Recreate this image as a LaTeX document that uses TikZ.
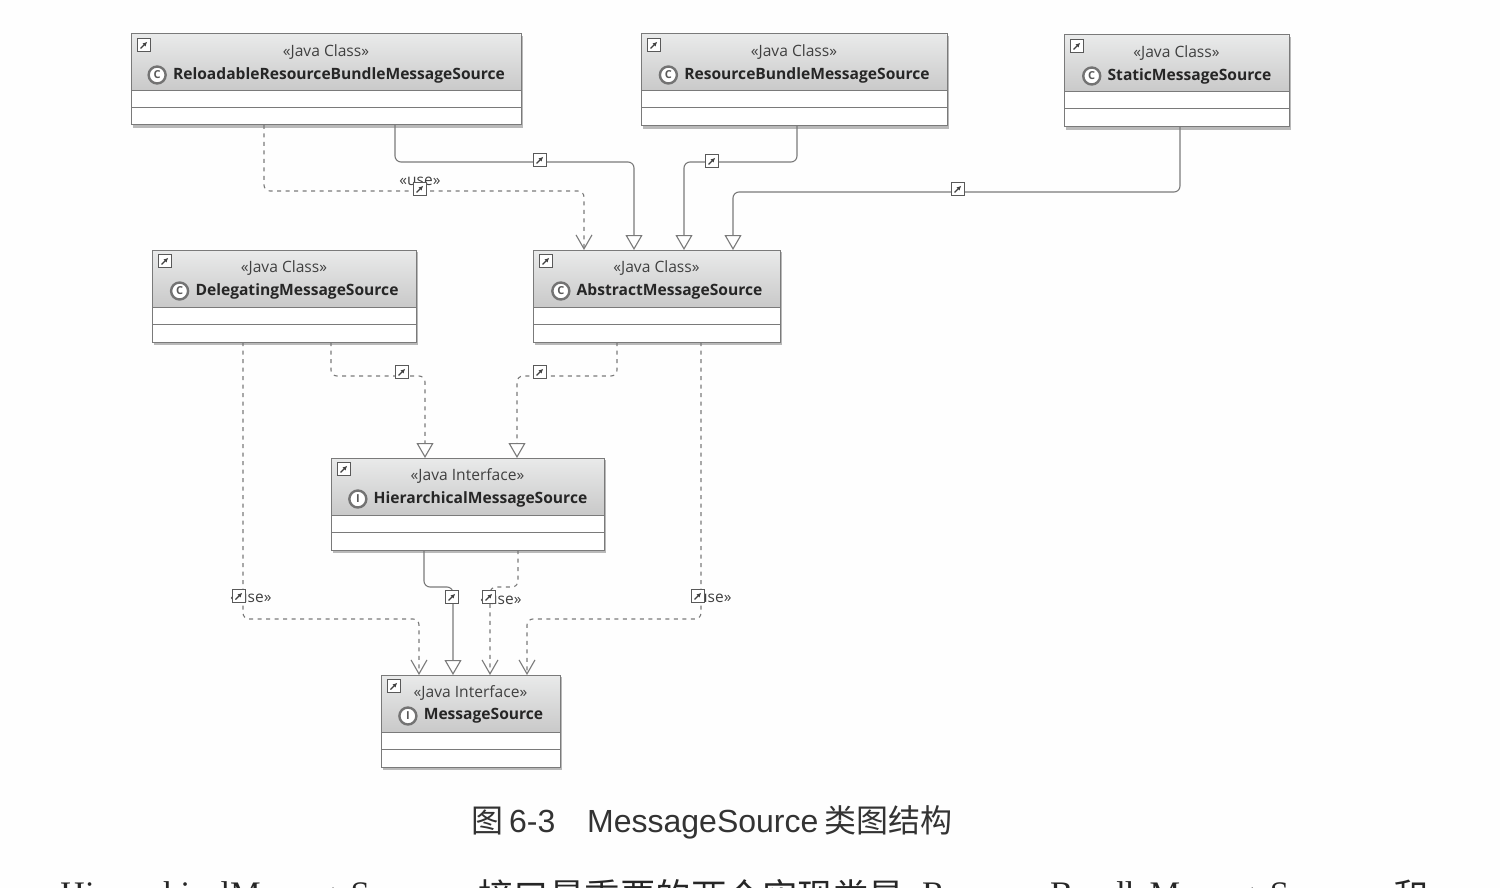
\documentclass[tikz,border=0pt]{standalone}
\usepackage{fontspec}
\setmainfont{Liberation Sans}
\newfontfamily\cjk{Noto Sans CJK SC}
\newfontfamily\umlf{Open Sans}
\newfontfamily\serifl{Liberation Serif}
\usetikzlibrary{arrows.meta,shadows,calc}
\definecolor{ln}{HTML}{7A7A7A}
\definecolor{hdtop}{HTML}{E9EAEA}
\definecolor{hdbot}{HTML}{C9C9C9}
\tikzset{
  umlbody/.style={draw=ln,line width=1pt,fill=white,inner sep=0,outer sep=0},
  umlshadow/.style={fill=black!45,draw=none,opacity=.6},
  stereotxt/.style={inner sep=0,font=\umlf\fontsize{15.6}{15}\selectfont,text=black!75},
  titletxt/.style={inner sep=0,font=\umlf\bfseries\fontsize{15.6}{15}\selectfont,text=black!85},
  kindicon/.style={circle,draw=black!55,line width=2.4pt,fill=white,minimum size=17pt,inner sep=0,font=\umlf\bfseries\fontsize{11}{11}\selectfont,text=black!65},
  linkicon/.style={draw=black!65,line width=1pt,fill=white,minimum size=12.5pt,inner sep=0,
    path picture={\draw[black!75,line width=1.1pt,-{Latex[length=4.5pt,width=4.5pt]}]
      ([shift={(-3.5pt,-3.5pt)}]path picture bounding box.center) -- ([shift={(3.2pt,3.2pt)}]path picture bounding box.center);}},
  conn/.style={draw=ln,line width=1.1pt,rounded corners=6pt},
  solidline/.style={conn},
  dashline/.style={conn,dash pattern=on 4pt off 4.5pt},
  gen/.style={-{Triangle[open,fill=white,length=15pt,width=17pt,line width=1.1pt]}},
  dep/.style={-{Straight Barb[length=14pt,width=16pt,line width=1.1pt]}},
  lbl/.style={inner sep=0,font=\umlf\fontsize{15.5}{15}\selectfont,text=black!75},
  capt/.style={anchor=base west,inner sep=0,font=\fontsize{32}{32}\selectfont,text=black!80},
  bodyl/.style={anchor=base west,inner sep=0,font=\serifl\fontsize{34.4}{34}\selectfont,text=black!85},
  bodyc/.style={anchor=base west,inner sep=0,font=\cjk\fontsize{35.5}{35}\selectfont,text=black!85},
}
\newcommand{\umlbox}[8]{%
  \fill[umlshadow] (#2+2,#3+2) rectangle (#4+2,#5+3);
  \node[umlbody,minimum width={(#4-#2)*1pt},minimum height={(#5-#3)*1pt}] (#1) at ({(#2+#4)/2},{(#3+#5)/2}) {};
  \shade[top color=hdtop,bottom color=hdbot] (#2+.6,#3+.6) rectangle (#4-.6,#3+57);
  \draw[ln,line width=1pt] (#2,#3+57) -- (#4,#3+57) (#2,#3+74) -- (#4,#3+74) (#1.south west) rectangle (#1.north east);
  \node[linkicon] (#1-link) at (#2+13,#3+11) {};
  \node[stereotxt] (#1-s) at ({(#2+#4)/2},#3+18) {#6};
  \node[titletxt] (#1-t) at ({(#2+#4)/2+13},#3+41) {#7};
  \node[kindicon,anchor=east] (#1-i) at ([xshift=-6pt]#1-t.west) {#8};
}
\begin{document}
\begin{tikzpicture}[x=1pt,y=-1pt]
\useasboundingbox (0,0) rectangle (1500,888);
\fill[white!99.5!black] (0,0) rectangle (1500,888);

\umlbox{rr}{131}{34}{521}{125}{«Java Class»}{ReloadableResourceBundleMessageSource}{C}
\umlbox{rb}{641}{34}{947}{126}{«Java Class»}{ResourceBundleMessageSource}{C}
\umlbox{st}{1064}{35}{1289}{127}{«Java Class»}{StaticMessageSource}{C}
\umlbox{de}{152}{250}{416}{342}{«Java Class»}{DelegatingMessageSource}{C}
\umlbox{ab}{533}{250}{780}{342}{«Java Class»}{AbstractMessageSource}{C}
\umlbox{hi}{331}{458}{604}{550}{«Java Interface»}{HierarchicalMessageSource}{I}
\umlbox{ms}{381}{675}{560}{767}{«Java Interface»}{MessageSource}{I}

% connectors
\draw[dashline,dep] ([xshift=133pt]rr.south west) |- (584,191) -- ([xshift=51pt]ab.north west);
\draw[solidline,gen] ([xshift=264pt]rr.south west) |- (634,162) -- ([xshift=101pt]ab.north west);
\draw[solidline,gen] ([xshift=156pt]rb.south west) |- (684,162) -- ([xshift=151pt]ab.north west);
\draw[solidline,gen] ([xshift=116pt]st.south west) |- (733,192) -- ([xshift=200pt]ab.north west);
\draw[dashline,gen] ([xshift=179pt]de.south west) |- (425,376) -- ([xshift=94pt]hi.north west);
\draw[dashline,gen] ([xshift=84pt]ab.south west) |- (517,376) -- ([xshift=186pt]hi.north west);
\draw[dashline,dep] ([xshift=91pt]de.south west) |- (419,619) -- ([xshift=38pt]ms.north west);
\draw[dashline,dep] ([xshift=168pt]ab.south west) |- (527,619) -- ([xshift=146pt]ms.north west);
\draw[solidline,gen] ([xshift=93pt]hi.south west) |- (453,587) -- ([xshift=72pt]ms.north west);
\draw[dashline,dep] ([xshift=187pt]hi.south west) |- (490,587) -- ([xshift=109pt]ms.north west);

% connector labels and icons
\node[lbl] (l1) at (420,181) {«use»};
\node[lbl] (l2) at (251,598) {«use»};
\node[lbl] (l3) at (501,600) {«use»};
\node[lbl] (l4) at (711,598) {«use»};
\node[linkicon] (c1) at (540,160) {};
\node[linkicon] (c2) at (712,161) {};
\node[linkicon] (c3) at (958,189) {};
\node[linkicon] (c4) at (420,189) {};
\node[linkicon] (c5) at (402,372) {};
\node[linkicon] (c6) at (540,372) {};
\node[linkicon] (c7) at (239,596) {};
\node[linkicon] (c8) at (452,597) {};
\node[linkicon] (c9) at (489,597) {};
\node[linkicon] (c10) at (698,596) {};

% caption and text below
\node[capt] (cap1) at (471,832) {\cjk 图};
\node[capt] (cap2) at (509,832) {6-3};
\node[capt] (cap3) at (587,832) {MessageSource};
\node[capt] (cap4) at (824,832) {\cjk 类图结构};
\node[bodyl] (b1) at (60,905) {HierarchicalMessageSource};
\node[bodyc] (b2) at (478,909) {接口最重要的两个实现类是};
\node[bodyl] (b3) at (922,905) {ResourceBundleMessageSource};
\node[bodyc] (b4) at (1393,909) {和};
\end{tikzpicture}
\end{document}
